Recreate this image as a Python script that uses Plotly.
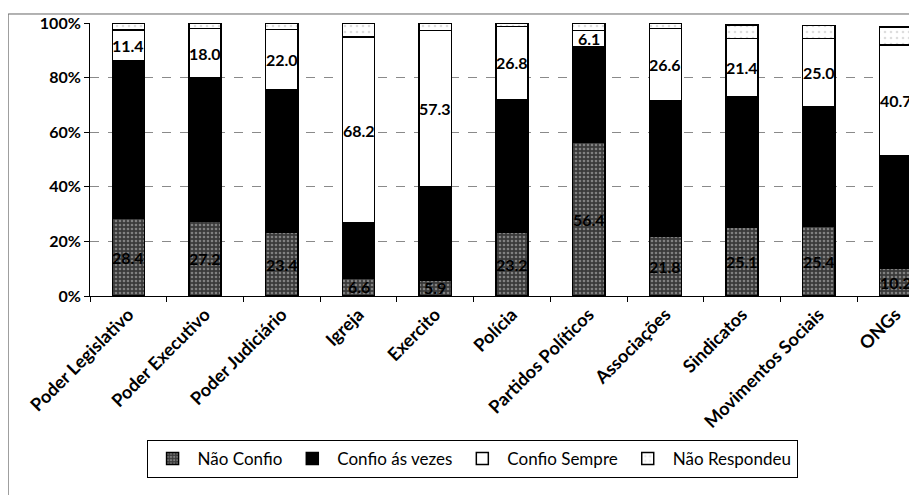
import plotly.graph_objects as go

categories = ["Poder Legislativo", "Poder Executivo", "Poder Judiciário", "Igreja",
              "Exercito", "Polícia", "Partidos Políticos", "Associações",
              "Sindicatos", "Movimentos Sociais", "ONGs"]
nao_confio = [28.4, 27.2, 23.4, 6.6, 5.9, 23.2, 56.4, 21.8, 25.1, 25.4, 10.2]
confio_as_vezes = [57.6, 52.8, 52.3, 20.1, 34.0, 48.8, 34.8, 49.6, 47.8, 43.9, 41.0]
confio_sempre = [11.4, 18.0, 22.0, 68.2, 57.3, 26.8, 6.1, 26.6, 21.4, 25.0, 40.7]
nao_respondeu = [2.6, 2.0, 2.3, 5.1, 2.8, 1.2, 2.7, 2.0, 4.9, 4.7, 6.6]
y_ticks = [0, 20, 40, 60, 80, 100]
y_tick_labels = ["0%", "20%", "40%", "60%", "80%", "100%"]

FONT = "Lato"
line = dict(color="black", width=1.5)
bw = 0.42

fig = go.Figure()
fig.add_trace(go.Bar(name="Não Confio", x=categories, y=nao_confio, width=bw,
                     marker=dict(color="#555555", line=line,
                                 pattern=dict(shape=".", bgcolor="#3a3a3a", fgcolor="#c8c8c8",
                                              size=4, solidity=0.35)),
                     cliponaxis=False))
fig.add_trace(go.Bar(name="Confio ás vezes", x=categories, y=confio_as_vezes, width=bw,
                     marker=dict(color="black", line=line), cliponaxis=False))
fig.add_trace(go.Bar(name="Confio Sempre", x=categories, y=confio_sempre, width=bw,
                     marker=dict(color="white", line=line), cliponaxis=False))
fig.add_trace(go.Bar(name="Não Respondeu", x=categories, y=nao_respondeu, width=bw,
                     marker=dict(color="white", line=line,
                                 pattern=dict(shape=".", bgcolor="white", fgcolor="#bbbbbb",
                                              size=6, solidity=0.15)),
                     cliponaxis=False))

annotations = []
for i, c in enumerate(categories):
    nc = nao_confio[i]
    av = confio_as_vezes[i]
    cs = confio_sempre[i]
    annotations.append(dict(x=c, y=nc / 2, text=f"<b>{nc:.1f}</b>", showarrow=False,
                            font=dict(family=FONT, size=16, color="black")))
    annotations.append(dict(x=c, y=nc + av + cs / 2, text=f"<b>{cs:.1f}</b>", showarrow=False,
                            font=dict(family=FONT, size=16, color="black")))

shapes = [dict(type="rect", xref="paper", yref="paper", x0=-0.099, x1=1.05,
               y0=-0.76, y1=1.033, line=dict(color="#666666", width=1), layer="below")]

fig.update_layout(
    barmode="stack",
    width=917, height=495,
    margin=dict(l=82, r=8, t=15, b=207, autoexpand=False),
    paper_bgcolor="white", plot_bgcolor="white",
    font=dict(family=FONT, color="black"),
    annotations=annotations,
    shapes=shapes,
    legend=dict(orientation="h", x=0.462, xanchor="center", y=-0.597, yanchor="middle",
                bordercolor="black", borderwidth=1, bgcolor="white",
                font=dict(family=FONT, size=17, color="black"),
                itemwidth=40, tracegroupgap=0,
                traceorder="normal"),
    showlegend=True,
)
fig.update_xaxes(range=[-0.5, 10.28], showline=True, linecolor="black", linewidth=1,
                 ticks="outside", tickson="boundaries", ticklen=5, tickcolor="black",
                 tickangle=-45, automargin=False,
                 tickvals=categories, ticktext=[f"<b>{c}</b>" for c in categories],
                 tickfont=dict(family=FONT, size=18, color="black"),
                 showgrid=False)
fig.update_yaxes(range=[0, 100], tickvals=y_ticks, ticktext=[f"<b>{t}</b>" for t in y_tick_labels],
                 showline=True, automargin=False,
                 linecolor="black", linewidth=1, ticks="outside", ticklen=5, tickcolor="black",
                 tickfont=dict(family=FONT, size=16, color="black"),
                 showgrid=True, gridcolor="#8a8a8a", griddash="dash", gridwidth=1,
                 zeroline=False)

fig.write_html("out.html")
